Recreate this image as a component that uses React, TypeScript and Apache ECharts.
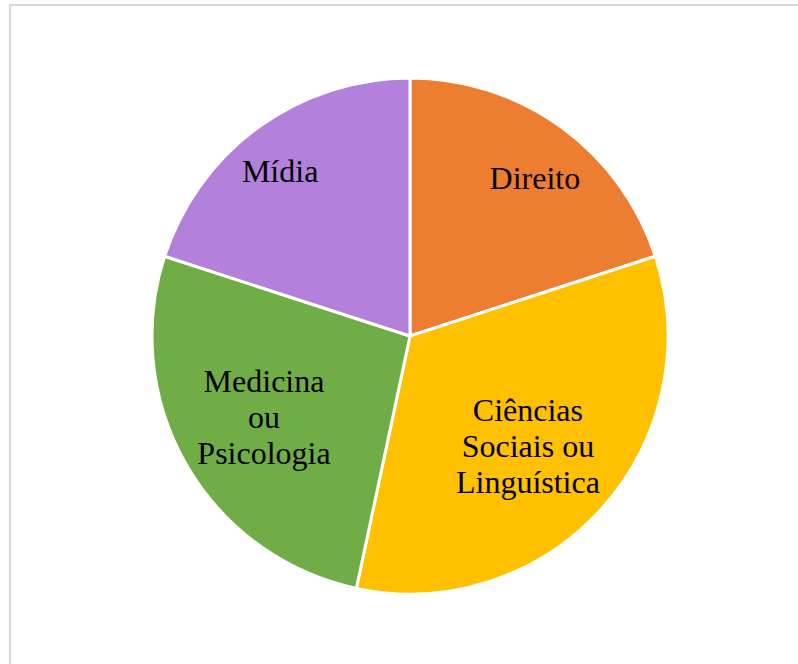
import React, { useEffect, useRef } from "react";
import * as echarts from "echarts";

const categories = ["Direito", "Ciências\nSociais ou\nLinguística", "Medicina\nou\nPsicologia", "Mídia"];
const values = [3, 5, 4, 3];
const colors = ["#ED7D31", "#FFC000", "#70AD47", "#B381DB"];
// label placement: distance from center (fraction of radius) and angular shift (deg) from slice middle
const labelRadius = [0.781, 0.625, 0.647, 0.814];
const labelAngleShift = [2.3, 1.0, 1.0, -2.2];

export default function App() {
  const ref = useRef<HTMLDivElement>(null);
  useEffect(() => {
    if (!ref.current) return;
    const chart = echarts.init(ref.current, null, { renderer: "svg" });
    const cx = 410, cy = 336, R = 258;
    const total = values.reduce((a, b) => a + b, 0);
    const mids: number[] = [];
    let acc = 0;
    values.forEach((v) => {
      mids.push(((acc + v / 2) / total) * 2 * Math.PI);
      acc += v;
    });
    chart.setOption({
      animation: false,
      backgroundColor: "#ffffff",
      graphic: [
        {
          type: "rect",
          shape: { x: 10, y: 5, width: 820, height: 700 },
          style: { fill: "none", stroke: "#d9d9d9", lineWidth: 2 },
          silent: true,
        },
      ],
      series: [
        {
          type: "pie",
          center: [cx, cy],
          radius: R,
          startAngle: 90,
          clockwise: true,
          avoidLabelOverlap: false,
          itemStyle: { borderColor: "#ffffff", borderWidth: 3 },
          label: {
            show: true,
            position: "inside",
            formatter: "{b}",
            color: "#000000",
            fontFamily: "Liberation Serif",
            fontSize: 32,
            lineHeight: 36,
            align: "center",
          },
          labelLine: { show: false },
          labelLayout: (params: any) => {
            const i = params.dataIndex;
            const a = mids[i] + (labelAngleShift[i] * Math.PI) / 180;
            const r = labelRadius[i] * R;
            return { x: cx + r * Math.sin(a), y: cy - r * Math.cos(a) };
          },
          emphasis: { disabled: true },
          data: categories.map((c, i) => ({
            name: c,
            value: values[i],
            itemStyle: { color: colors[i] },
          })),
        },
      ],
    });
    return () => chart.dispose();
  }, []);
  return (
    <div
      ref={ref}
      style={{ position: "absolute", left: 0, top: 0, width: 798, height: 664 }}
    />
  );
}
